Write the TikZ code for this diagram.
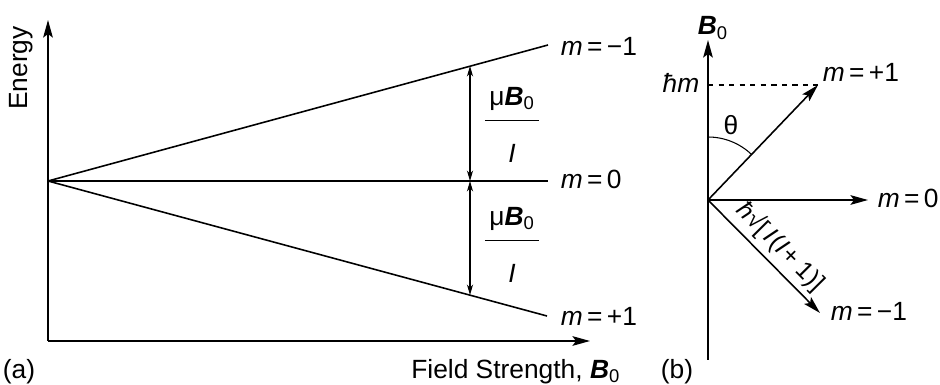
\documentclass[tikz,border=0pt]{standalone}
\usepackage{fontspec}
\setmainfont{Liberation Sans}
\usetikzlibrary{arrows.meta,positioning}
\newcommand{\Bz}{\textbf{\textit{B}}\textsubscript{0}}
\newcommand{\mz}[1]{\textit{m}\,=\,#1}
\newcommand{\splitfrac}{\begin{tabular}{@{\,}c@{\,}}μ\Bz\\[3pt]\hline\rule{0pt}{24pt}\textit{I}\end{tabular}}

\begin{document}
\begin{tikzpicture}[x=0.02cm,y=-0.02cm,>={Stealth[length=10pt,width=5.5pt,inset=2pt]},line width=0.9pt,
    lbl/.style={font=\fontsize{15}{17}\selectfont,inner sep=0pt},
    gap/.style={line width=0.6pt,{Stealth[length=6pt,width=3.5pt]}-{Stealth[length=6pt,width=3.5pt]}}]
  \useasboundingbox (0,0) rectangle (940,385);
  %% (a) energy levels
  \coordinate (orig) at (48,181);
  \coordinate (ytop) at (48,20);
  \coordinate (corner) at (48,341);
  \coordinate (xend) at (590,341);
  \coordinate (up) at (548,45);
  \coordinate (mid) at (548,181);
  \coordinate (dn) at (547,316);
  \coordinate (gapA) at (470,66);
  \coordinate (gapB) at (470,181);
  \coordinate (gapC) at (470,295);
  \draw[<-] (ytop) -- (corner);
  \draw[->] (corner) -- (xend);
  \draw (orig) -- (up);
  \draw (orig) -- (mid);
  \draw (orig) -- (dn);
  \draw[gap] (gapA) -- (gapB);
  \draw[gap] (gapB) -- (gapC);
  \node[lbl,anchor=base west] (lup) at (560,56) {\mz{−1}};
  \node[lbl,anchor=base west] (lmid) at (560,188) {\mz{0}};
  \node[lbl,anchor=base west] (ldn) at (560,325) {\mz{+1}};
  \node[lbl] (fracA) at (512,128) {\splitfrac};
  \node[lbl] (fracB) at (512,248) {\splitfrac};
  \node[lbl,rotate=90] (energy) at (21,68) {Energy};
  \node[lbl,anchor=east] (field) at (621,372) {Field Strength, \Bz};
  \node[lbl] (tagA) at (19,372) {(a)};
  %% (b) vector model
  \coordinate (o) at (708,200);
  \coordinate (btop) at (708,40);
  \coordinate (bbot) at (708,360);
  \coordinate (vplus) at (818,85);
  \coordinate (vzero) at (868,200);
  \coordinate (vminus) at (820,313);
  \coordinate (hm) at (708,85);
  \draw[<-] (btop) -- (bbot);
  \draw[->] (o) -- (vplus);
  \draw[->] (o) -- (vzero);
  \draw[->] (o) -- (vminus)
    node[lbl,sloped,above=3pt,pos=0.53,font=\fontsize{14}{16}\selectfont]
    {\textit{ħ}√[\,\textit{I}\kern1pt(\textit{I}\kern1pt + 1)]};
  \draw[dashed,line width=0.6pt] (hm) -- (vplus);
  \draw[line width=0.6pt] (o) ++(0,-63) arc[start angle=-90,end angle=-46,radius=63];
  \node[lbl] (theta) at (731,125) {θ};
  \node[lbl,anchor=base] (bzero) at (713,35) {\Bz};
  \node[lbl,anchor=base east] (hmlbl) at (700,92) {\textit{ħm}};
  \node[lbl,anchor=base west] (lplus) at (822,82) {\mz{+1}};
  \node[lbl,anchor=base west] (lzero) at (877,207) {\mz{0}};
  \node[lbl,anchor=base west] (lminus) at (830,320) {\mz{−1}};
  \node[lbl] (tagB) at (677,372) {(b)};
\end{tikzpicture}
\end{document}
